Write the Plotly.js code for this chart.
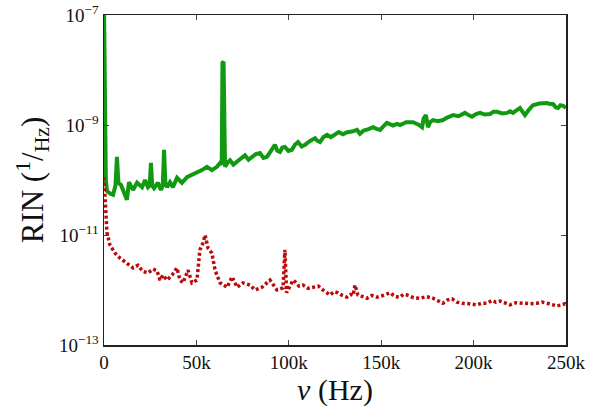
<!DOCTYPE html>
<html>
<head>
<meta charset="utf-8">
<script src="https://cdn.plot.ly/plotly-3.0.1.min.js"></script>
<style>
  html, body { margin: 0; padding: 0; background: #fff; }
  #chart { width: 590px; height: 411px; }
</style>
</head>
<body>
<div id="chart"></div>
<script>
// Relative intensity noise spectra: frequency in kHz, RIN as log10(1/Hz)
const freqGreenKHz = [0, 0.5, 1.0, 1.6, 2.2, 3.5, 4.9, 6.2, 7.0, 7.8,
  9.2, 10.3, 12.4, 13.5, 15.7, 17.9, 20.6, 22.2, 23.8, 24.7,
  25.4, 26.1, 27.1, 29.2, 30.8, 31.8, 32.5, 33.2, 34.1, 35.7,
  37.3, 39.5, 42.2, 44.9, 47.6, 50.3, 53.0, 55.7, 58.4, 61.1,
  62.8, 63.7, 64.1, 64.7, 65.1,
  65.5, 67.0, 68.2, 70.0, 72.0, 74.0, 76.3, 78.2, 80.1, 82.2,
  84.4, 86.3, 88.2, 90.3, 92.5, 93.8, 95.2, 96.5, 97.9, 99.8,
  101.7, 103.3, 105.0, 107.0, 108.8, 111.5, 114.2, 115.5, 116.9, 118.8,
  120.7, 122.8, 125.0, 127.0, 129.3, 131.5, 134.2, 136.9, 138.5, 140.5,
  142.8, 145.6, 147.5, 149.4, 151.3, 153.1, 156.5, 158.5, 160.2, 163.5,
  167.2, 170.0, 172.1, 173.0, 174.2, 175.3, 176.5, 178.0, 180.8, 183.4,
  186.0, 188.9, 191.8, 195.3, 197.3, 199.1, 201.3, 203.5, 206.0, 208.9,
  210.8, 212.7, 215.5, 218.1, 219.8, 221.3, 223.0, 225.1, 226.5, 227.8,
  230.0, 232.1, 235.5, 239.7, 241.5, 243.0, 244.5, 245.7, 247.0, 248.4, 250];
const rinGreenLog = [-6.8, -9.0, -10.0, -10.2, -10.22, -10.25, -10.27, -10.1, -9.58, -10.05,
  -10.09, -10.18, -10.36, -10.04, -10.18, -10.05, -10.13, -10.0, -10.13, -10.1,
  -9.69, -10.1, -10.15, -10.05, -10.18, -10.1, -9.45, -10.05, -10.13, -10.04,
  -10.13, -9.96, -10.05, -9.95, -9.91, -9.87, -9.82, -9.76, -9.82, -9.76,
  -9.69, -9.72, -7.87, -7.85, -9.7,
  -9.76, -9.68, -9.64, -9.72, -9.67, -9.60, -9.55, -9.63, -9.58, -9.53,
  -9.51, -9.60, -9.58, -9.47, -9.36, -9.47, -9.49, -9.41, -9.40, -9.47,
  -9.45, -9.36, -9.31, -9.39, -9.36, -9.29, -9.24, -9.29, -9.31, -9.22,
  -9.18, -9.22, -9.18, -9.13, -9.17, -9.13, -9.12, -9.09, -9.16, -9.10,
  -9.08, -9.04, -9.07, -9.09, -9.02, -8.96, -9.01, -8.98, -9.0, -8.95,
  -8.95, -8.99, -9.04, -8.88, -8.82, -9.04, -8.95, -8.91, -8.93, -8.91,
  -8.86, -8.82, -8.84, -8.78, -8.82, -8.85, -8.80, -8.78, -8.81, -8.80,
  -8.76, -8.76, -8.79, -8.78, -8.75, -8.78, -8.74, -8.69, -8.76, -8.82,
  -8.72, -8.64, -8.61, -8.60, -8.62, -8.62, -8.68, -8.69, -8.64, -8.65, -8.69];

const freqRedKHz = [0, 0.5, 1.1, 1.6, 3.2, 6.0, 8.7, 12.4, 15.7, 18.4,
  21.0, 23.8, 26.5, 28.7, 30.3, 31.9, 34.1, 36.8, 39.5, 41.1,
  42.7, 45.5, 47.6, 50.3, 51.9, 53.5, 54.7, 56.3, 58.4, 60.1,
  62.8, 66.6, 69.3, 72.0, 75.2, 79.0, 81.7, 85.5, 89.8, 93.6,
  96.9, 97.9, 98.8,
  102.3, 103.4, 105.5, 107.7, 110.5, 113.1, 116.0, 118.5, 120.5, 122.3,
  124.5, 126.6, 129.0, 131.5, 133.5, 134.8, 135.8, 137.4, 140.0, 142.3,
  145.0, 147.7, 151.0, 154.8, 157.5, 160.2, 162.0, 164.0, 167.5, 171.0,
  174.5, 178.0, 181.0, 183.4, 186.0, 188.3, 191.0, 193.7, 197.5, 201.8,
  204.5, 207.3, 210.0, 212.0, 214.3, 217.0, 219.7, 223.0, 226.7, 230.5,
  234.3, 237.0, 239.7, 242.5, 245.1, 247.5, 249.5, 250];
const rinRedLog = [-9.95, -10.2, -10.55, -10.96, -11.18, -11.33, -11.42, -11.51, -11.6, -11.55,
  -11.66, -11.69, -11.62, -11.65, -11.82, -11.73, -11.82, -11.73, -11.6, -11.82,
  -11.87, -11.64, -11.87, -11.82, -11.27, -11.15, -11.0, -11.24, -11.33, -11.64,
  -11.87, -11.95, -11.76, -11.95, -11.87, -11.91, -12.0, -11.95, -11.82, -12.0,
  -11.96, -11.27, -12.05,
  -11.82, -11.85, -11.93, -11.91, -11.97, -11.95, -11.93, -12.0, -12.05, -12.09,
  -12.03, -12.05, -12.1, -12.13, -12.08, -12.1, -11.91, -12.09, -12.12, -12.15,
  -12.1, -12.13, -12.1, -12.05, -12.12, -12.13, -12.08, -12.09, -12.14, -12.15,
  -12.12, -12.15, -12.2, -12.24, -12.18, -12.16, -12.22, -12.24, -12.25, -12.27,
  -12.24, -12.24, -12.19, -12.22, -12.2, -12.24, -12.27, -12.23, -12.24, -12.25,
  -12.24, -12.22, -12.24, -12.26, -12.29, -12.27, -12.25, -12.27];

// Axis ticks
const xTickVals = [0, 50, 100, 150, 200, 250];
const xTickText = ['0', '50k', '100k', '150k', '200k', '250k'];
const yTickVals = [1e-13, 1e-11, 1e-9, 1e-7];
const yTickText = ['10<sup>\u221213</sup>', '10<sup>\u221211</sup>', '10<sup>\u22129</sup>', '10<sup>\u22127</sup>'];

const toLin = a => a.map(v => Math.pow(10, v));
const serif = 'Liberation Serif, DejaVu Serif, serif';

const traces = [
  {
    x: freqGreenKHz, y: toLin(rinGreenLog), type: 'scatter', mode: 'lines',
    line: { color: '#129912', width: 4 }, hoverinfo: 'skip'
  },
  {
    x: freqRedKHz, y: toLin(rinRedLog), type: 'scatter', mode: 'lines',
    line: { color: '#bb0a0a', width: 3.5, dash: '3px,2.5px' }, hoverinfo: 'skip'
  }
];

const axisCommon = {
  showline: true, linecolor: '#222', linewidth: 1.5, mirror: 'ticks',
  ticks: 'inside', ticklen: 5, tickwidth: 1, tickcolor: '#444',
  showgrid: false, zeroline: false,
  tickfont: { family: serif, size: 19, color: '#111' }
};

const layout = {
  width: 590, height: 411,
  margin: { l: 104, r: 24, t: 15, b: 66 },
  paper_bgcolor: '#fff', plot_bgcolor: '#fff',
  showlegend: false,
  xaxis: Object.assign({}, axisCommon, {
    range: [0, 250], tickmode: 'array', tickvals: xTickVals, ticktext: xTickText,
    title: { text: '<i>\u03bd</i> (Hz)', font: { family: serif, size: 30, color: '#111' }, standoff: 2 }
  }),
  yaxis: Object.assign({}, axisCommon, {
    type: 'log', range: [-13, -7], tickmode: 'array', tickvals: yTickVals, ticktext: yTickText,
    title: { text: 'RIN (<sup>1</sup>/<sub>Hz</sub>)', font: { family: serif, size: 31, color: '#111' }, standoff: 6 }
  })
};

Plotly.newPlot('chart', traces, layout, { staticPlot: true, displayModeBar: false });
</script>
</body>
</html>
